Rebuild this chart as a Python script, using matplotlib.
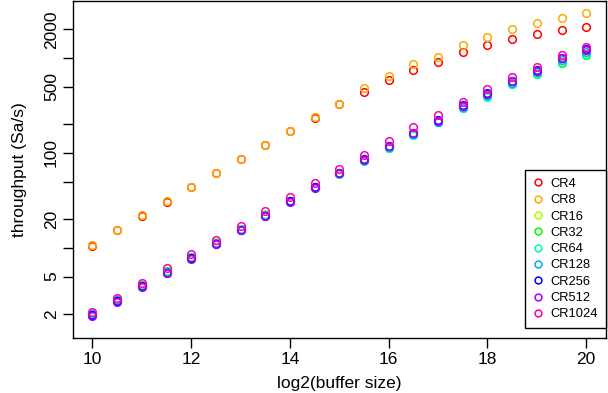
import numpy as np
import matplotlib.pyplot as plt

plt.rcParams['font.family'] = ['Liberation Sans', 'DejaVu Sans']

# log2(buffer size)
buf = [10, 10.5, 11, 11.5, 12, 12.5, 13, 13.5, 14, 14.5, 15,
       15.5, 16, 16.5, 17, 17.5, 18, 18.5, 19, 19.5, 20]

cr4 = [10.6, 15.4, 21.8, 30.6, 43.3, 61.2, 86, 120.5, 169, 236, 325,
       441, 581, 750, 897, 1142, 1371, 1586, 1791, 1971, 2140]
cr8 = [10.7, 15.6, 22.0, 30.9, 43.8, 61.8, 86.7, 121.6, 170.5, 239, 330,
       478, 644, 855, 1027, 1352, 1652, 2005, 2335, 2660, 3000]
cr16 = [2.05, 2.87, 4.08, 5.75, 8.1, 11.5, 16.0, 22.5, 31.5, 44, 61.5,
        85, 116, 158, 214, 303, 400, 545, 700, 910, 1100]
cr32 = [2.03, 2.85, 4.05, 5.7, 8.05, 11.4, 15.8, 22.2, 31.2, 43.5, 60.5,
        84, 114, 156, 212, 300, 395, 535, 685, 890, 1080]
cr64 = [2.02, 2.82, 4.02, 5.65, 8.0, 11.3, 15.7, 22.0, 31, 43, 60,
        83, 113, 155, 210, 298, 392, 530, 676, 880, 1070]
cr128 = [2.0, 2.8, 4.0, 5.6, 7.9, 11.2, 15.6, 22.0, 31, 43.5, 61,
         85, 116, 158, 214, 305, 408, 550, 710, 960, 1160]
cr256 = [1.95, 2.75, 3.95, 5.5, 7.8, 11.0, 15.5, 21.8, 31, 43.5, 62,
         86, 119, 163, 222, 318, 425, 575, 740, 1010, 1230]
cr512 = [1.92, 2.69, 3.87, 5.42, 7.68, 10.9, 15.3, 21.5, 30.5, 43.0, 61,
         84, 117, 161, 219, 314, 420, 570, 735, 1000, 1220]
cr1024 = [2.13, 2.99, 4.30, 6.08, 8.59, 12.2, 17.2, 24.3, 34.4, 48.2, 68,
          96, 135, 189, 253, 346, 467, 624, 794, 1070, 1307]

labels = ['CR4', 'CR8', 'CR16', 'CR32', 'CR64', 'CR128', 'CR256', 'CR512', 'CR1024']
series = [cr4, cr8, cr16, cr32, cr64, cr128, cr256, cr512, cr1024]
colors = ['#FF0000', '#FFAA00', '#AAFF00', '#00FF00', '#00FFAA',
          '#00AAFF', '#0000FF', '#AA00FF', '#FF00AA']

yticks = [2, 5, 10, 20, 50, 100, 200, 500, 1000, 2000]
ytick_labels = ['2', '5', '', '20', '', '100', '', '500', '', '2000']

fig = plt.figure(figsize=(6.08, 3.93), dpi=100)
ax = fig.add_axes([0.1196, 0.1392, 0.8771, 0.8595])

for y, c, lab in zip(series, colors, labels):
    ax.plot(buf, y, linestyle='none', marker='o', markersize=5.5,
            markerfacecolor='none', markeredgecolor=c, markeredgewidth=1.1,
            label=lab)

ax.set_yscale('log')
ax.set_xlim(9.6, 20.4)
ax.set_ylim(1.12, 4020)
ax.set_xticks([10, 12, 14, 16, 18, 20])
ax.set_yticks(yticks)
ax.set_yticklabels(ytick_labels, rotation=90, va='center')
ax.minorticks_off()
ax.tick_params(direction='out', length=7, width=1, labelsize=12.5, pad=3, color='black')

for s in ax.spines.values():
    s.set_linewidth(1)
    s.set_color('black')

ax.set_xlabel('log2(buffer size)', fontsize=12.5, labelpad=6)
ax.set_ylabel('throughput (Sa/s)', fontsize=12.5, labelpad=12)

leg = ax.legend(loc='lower right', bbox_to_anchor=(1.0, 0.03), borderaxespad=0,
                fontsize=9.3, frameon=True, fancybox=False, framealpha=1,
                edgecolor='black', labelspacing=0.33, handlelength=0.8,
                handletextpad=0.6, borderpad=0.6, markerscale=0.9)
leg.get_frame().set_linewidth(1)

fig.savefig('out.png', dpi=100)
